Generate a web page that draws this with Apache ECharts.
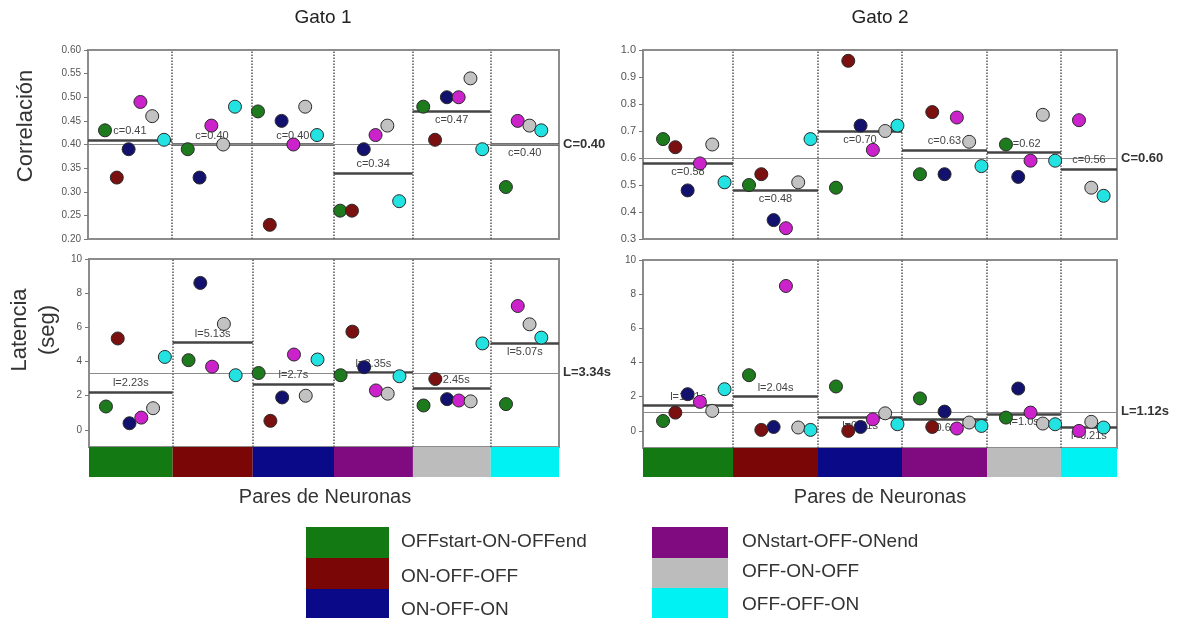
<!DOCTYPE html>
<html>
<head>
<meta charset="utf-8">
<script src="https://cdn.jsdelivr.net/npm/echarts@6/dist/echarts.min.js"></script>
<style>
  html, body { margin: 0; padding: 0; background: #fff; }
  #chart { width: 1191px; height: 622px; }
</style>
</head>
<body>
<div id="chart"></div>
<script>
// Cell-response types; each group of neuron pairs is headed by one type,
// and inside a group each point is the partner neuron of that type.
const cellTypes = ['OFFstart-ON-OFFend', 'ON-OFF-OFF', 'ON-OFF-ON', 'ONstart-OFF-ONend', 'OFF-ON-OFF', 'OFF-OFF-ON'];

// Rows = group, columns = partner type (null = pair not recorded)
const corrGato1 = [
  [0.43, 0.33, 0.39, 0.49, 0.46, 0.41],
  [0.39, null, 0.33, 0.44, 0.40, 0.48],
  [0.47, 0.23, 0.45, 0.40, 0.48, 0.42],
  [0.26, 0.26, 0.39, 0.42, 0.44, 0.28],
  [0.48, 0.41, 0.50, 0.50, 0.54, 0.39],
  [0.31, null, null, 0.45, 0.44, 0.43]
];
const corrMeanGato1 = ['0.41', '0.40', '0.40', '0.34', '0.47', '0.40'];
const corrTotalGato1 = '0.40';

const latGato1 = [
  [1.37, 5.35, 0.39, 0.72, 1.27, 4.27],
  [4.08, null, 8.60, 3.70, 6.20, 3.20],
  [3.33, 0.53, 1.90, 4.41, 2.00, 4.12],
  [3.20, 5.75, 3.67, 2.31, 2.12, 3.14],
  [1.43, 2.98, 1.80, 1.72, 1.67, 5.06],
  [1.51, null, null, 7.25, 6.18, 5.40]
];
const latMeanGato1 = ['2.23', '5.13', '2.7', '3.35', '2.45', '5.07'];
const latTotalGato1 = '3.34';

const corrGato2 = [
  [0.67, 0.64, 0.48, 0.58, 0.65, 0.51],
  [0.50, 0.54, 0.37, 0.34, 0.51, 0.67],
  [0.49, 0.96, 0.72, 0.63, 0.70, 0.72],
  [0.54, 0.77, 0.54, 0.75, 0.66, 0.57],
  [0.65, null, 0.53, 0.59, 0.76, 0.59],
  [null, null, null, 0.74, 0.49, 0.46]
];
const corrMeanGato2 = ['0.58', '0.48', '0.70', '0.63', '0.62', '0.56'];
const corrTotalGato2 = '0.60';

const latGato2 = [
  [0.58, 1.07, 2.15, 1.70, 1.17, 2.44],
  [3.26, 0.06, 0.23, 8.48, 0.20, 0.06],
  [2.60, 0.00, 0.23, 0.68, 1.03, 0.39],
  [1.90, 0.23, 1.13, 0.14, 0.49, 0.29],
  [0.78, null, 2.48, 1.07, 0.43, 0.39],
  [null, null, null, 0.00, 0.53, 0.20]
];
const latMeanGato2 = ['1.51', '2.04', '0.81', '0.69', '1.0', '0.21'];
const latTotalGato2 = '1.12';

const latTicks = [0, 2, 4, 6, 8, 10];

// ---- styling / layout ----
const FONT = '"Liberation Sans", Arial, sans-serif';
const pointColors = ['#1d7a1d', '#7a1010', '#12126e', '#cc22cc', '#c2c2c2', '#22e2e2'];
const blockColors = ['#137a13', '#7a0606', '#0a0a88', '#800a80', '#bcbcbc', '#00f2f2'];

// x axis runs in point-slot units; group edges and first slot of each group
const layoutGato1 = { max: 39.9, edges: [0, 7.1, 13.9, 20.8, 27.5, 34.1, 39.9], first: [1.44, 8.45, 14.4, 21.36, 28.4, 35.4] };
const layoutGato2 = { max: 38.54, edges: [0, 7.32, 14.23, 21.06, 27.97, 33.98, 38.54], first: [1.63, 8.62, 15.69, 22.52, 29.51, 35.45] };

const grids = [
  { left: 88, top: 50, width: 471, height: 189, show: true, borderColor: '#8c8c8c', borderWidth: 2 },
  { left: 89, top: 259, width: 470, height: 188, show: true, borderColor: '#8c8c8c', borderWidth: 2 },
  { left: 89, top: 447, width: 470, height: 30 },
  { left: 643, top: 50, width: 474, height: 189, show: true, borderColor: '#8c8c8c', borderWidth: 2 },
  { left: 643, top: 260, width: 474, height: 188, show: true, borderColor: '#8c8c8c', borderWidth: 2 },
  { left: 643, top: 448, width: 474, height: 29 }
];

const xAxes = grids.map((g, i) => ({
  gridIndex: i, type: 'value', min: 0,
  max: (i < 3 ? layoutGato1 : layoutGato2).max,
  show: false
}));

const baseY = {
  type: 'value',
  axisLine: { show: true, lineStyle: { color: '#8c8c8c', width: 2 } },
  axisTick: { show: true, length: 4, lineStyle: { color: '#777' } },
  splitLine: { show: false }
};
const labelStyle = { fontSize: 10, color: '#555', fontFamily: FONT, margin: 7 };

const yAxes = [
  Object.assign({}, baseY, {
    gridIndex: 0, min: 0.2, max: 0.6, interval: 0.05,
    axisLabel: Object.assign({}, labelStyle, { formatter: v => v.toFixed(2) })
  }),
  Object.assign({}, baseY, {
    gridIndex: 1, min: -1, max: 10,
    axisTick: { show: true, length: 4, lineStyle: { color: '#777' }, customValues: latTicks },
    axisLabel: Object.assign({}, labelStyle, { customValues: latTicks, formatter: v => String(v) })
  }),
  { gridIndex: 2, type: 'value', min: 0, max: 1, show: false },
  Object.assign({}, baseY, {
    gridIndex: 3, min: 0.3, max: 1.0, interval: 0.1,
    axisLabel: Object.assign({}, labelStyle, { fontSize: 11, formatter: v => v.toFixed(1) })
  }),
  Object.assign({}, baseY, {
    gridIndex: 4, min: -1, max: 10,
    axisTick: { show: true, length: 4, lineStyle: { color: '#777' }, customValues: latTicks },
    axisLabel: Object.assign({}, labelStyle, { customValues: latTicks, formatter: v => String(v) })
  }),
  { gridIndex: 5, type: 'value', min: 0, max: 1, show: false }
];

const series = [];

function addPanel(gi, rows, means, total, layout, opts) {
  // one scatter series per partner type
  cellTypes.forEach((name, t) => {
    const data = [];
    rows.forEach((row, g) => {
      let pos = 0;
      row.forEach((v, k) => {
        if (v == null) return;
        if (k === t) data.push([layout.first[g] + pos, v]);
        pos++;
      });
    });
    series.push({
      type: 'scatter', name, xAxisIndex: gi, yAxisIndex: gi, data,
      symbolSize: 13, z: 5, silent: true, animation: false,
      itemStyle: { color: pointColors[t], borderColor: '#2a2a2a', borderWidth: 1, opacity: 1 }
    });
  });

  const lines = [];
  layout.edges.slice(1, -1).forEach(e => lines.push({
    xAxis: e, lineStyle: { type: 'dotted', color: '#555', width: 1.5 }, label: { show: false }
  }));
  means.forEach((m, g) => {
    const style = { color: '#444', width: 2.5, type: 'solid' };
    const lab = {
      show: true, position: opts.sides[g] === 'top' ? 'insideMiddleTop' : 'insideMiddleBottom',
      formatter: opts.prefix + m + opts.suffix, color: '#444', fontSize: 11, fontFamily: FONT, distance: 3
    };
    lines.push([
      { coord: [layout.edges[g], Number(m)], lineStyle: style, label: lab },
      { coord: [layout.edges[g + 1], Number(m)], lineStyle: style, label: lab }
    ]);
  });
  lines.push({
    yAxis: Number(total), lineStyle: { color: '#8a8a8a', width: 1.2, type: 'solid' },
    label: {
      show: true, position: 'end', formatter: opts.totalPrefix + total + opts.suffix,
      fontWeight: 'bold', fontSize: 13, color: '#333', fontFamily: FONT, distance: 4
    }
  });
  series.push({
    type: 'scatter', xAxisIndex: gi, yAxisIndex: gi, data: [], silent: true, z: 2, animation: false,
    markLine: { symbol: ['none', 'none'], silent: true, animation: false, data: lines }
  });
}

function addBlocks(gi, layout) {
  series.push({
    type: 'scatter', xAxisIndex: gi, yAxisIndex: gi, data: [], silent: true, animation: false,
    markArea: {
      silent: true, animation: false,
      data: blockColors.map((c, g) => [
        { xAxis: layout.edges[g], itemStyle: { color: c, opacity: 1 } },
        { xAxis: layout.edges[g + 1] }
      ])
    }
  });
}

addPanel(0, corrGato1, corrMeanGato1, corrTotalGato1, layoutGato1,
  { prefix: 'c=', suffix: '', totalPrefix: 'C=', sides: ['top', 'top', 'top', 'top', 'bottom', 'bottom'] });
addPanel(1, latGato1, latMeanGato1, latTotalGato1, layoutGato1,
  { prefix: 'l=', suffix: 's', totalPrefix: 'L=', sides: ['top', 'top', 'top', 'top', 'top', 'bottom'] });
addBlocks(2, layoutGato1);
addPanel(3, corrGato2, corrMeanGato2, corrTotalGato2, layoutGato2,
  { prefix: 'c=', suffix: '', totalPrefix: 'C=', sides: ['bottom', 'bottom', 'bottom', 'top', 'top', 'top'] });
addPanel(4, latGato2, latMeanGato2, latTotalGato2, layoutGato2,
  { prefix: 'l=', suffix: 's', totalPrefix: 'L=', sides: ['top', 'top', 'bottom', 'bottom', 'bottom', 'bottom'] });
addBlocks(5, layoutGato2);

// titles, axis captions and the type legend
const graphic = [];
function text(x, y, str, size, extra) {
  graphic.push({
    type: 'text', x, y, silent: true, rotation: (extra && extra.rotation) || 0,
    style: Object.assign({ text: str, fontSize: size, fontFamily: FONT, fill: '#222', align: 'center', verticalAlign: 'middle' }, extra && extra.style || {})
  });
}
text(323, 18, 'Gato 1', 19);
text(880, 18, 'Gato 2', 19);
text(325, 497, 'Pares de Neuronas', 20, { style: { fill: '#333' } });
text(880, 497, 'Pares de Neuronas', 20, { style: { fill: '#333' } });
text(26, 126, 'Correlación', 22, { rotation: Math.PI / 2, style: { fill: '#333' } });
text(34, 330, 'Latencia\n(seg)', 22, { rotation: Math.PI / 2, style: { fill: '#333', lineHeight: 28 } });

const legendCols = [
  { rx: 306, rw: 83, tx: 401, items: [0, 1, 2], rowY: [527, 558, 589], rowH: [31, 31, 29], textY: [542, 577, 610] },
  { rx: 652, rw: 76, tx: 742, items: [3, 4, 5], rowY: [527, 558, 588], rowH: [31, 30, 30], textY: [542, 572, 605] }
];
legendCols.forEach(col => {
  col.items.forEach((t, i) => {
    graphic.push({
      type: 'rect', silent: true,
      shape: { x: col.rx, y: col.rowY[i], width: col.rw, height: col.rowH[i] },
      style: { fill: blockColors[t] }
    });
    text(col.tx, col.textY[i], cellTypes[t], 19, { style: { align: 'left', fill: '#333' } });
  });
});

const chart = echarts.init(document.getElementById('chart'));
chart.setOption({
  backgroundColor: '#fff',
  animation: false,
  textStyle: { fontFamily: FONT },
  grid: grids,
  xAxis: xAxes,
  yAxis: yAxes,
  series,
  graphic
});
</script>
</body>
</html>
